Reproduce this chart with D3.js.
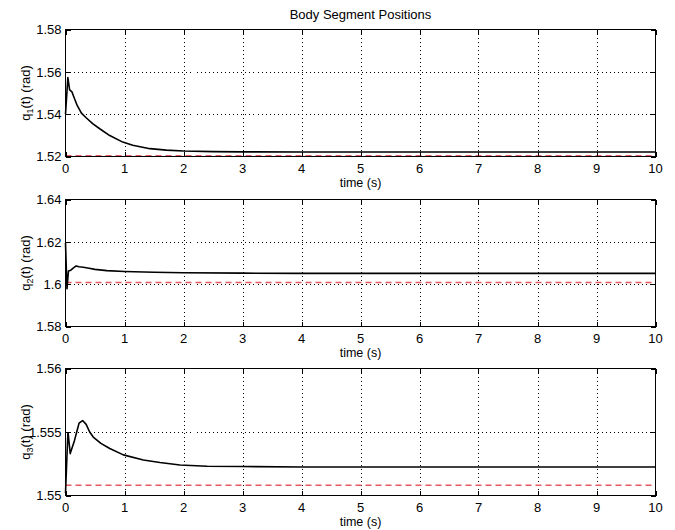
<!DOCTYPE html>
<html>

<head>
    <meta charset="utf-8">
    <style>
        body {
            margin: 0;
            background: #fff;
        }

        svg {
            font-family: "Liberation Sans", Arial, Helvetica, sans-serif;
            font-size: 13px;
        }

        .grid line {
            stroke: #000;
            stroke-dasharray: 1, 3;
            shape-rendering: crispEdges;
        }

        .tick-mark {
            stroke: #000;
            shape-rendering: crispEdges;
        }

        .frame {
            fill: none;
            stroke: #000;
            shape-rendering: crispEdges;
        }
    </style>
</head>

<body>
    <svg width="675" height="530"></svg>
</body>

<script src="https://d3js.org/d3.v7.min.js"></script>

<script>
    // values
    let xTicks = [0, 1, 2, 3, 4, 5, 6, 7, 8, 9, 10]

    let t1 = [0, 0.04, 0.07, 0.11, 0.15, 0.2, 0.27, 0.35, 0.46, 0.58, 0.75, 0.97, 1.14, 1.43, 1.71, 2.0, 2.5, 3, 4, 6, 8, 10]
    let q1 = [1.540, 1.5573, 1.5515, 1.5505, 1.5475, 1.5440, 1.5405, 1.5383, 1.5355, 1.5331, 1.5299, 1.5268, 1.5253, 1.5237, 1.5230, 1.5226, 1.5223, 1.5222, 1.5221, 1.5221, 1.5221, 1.5221]
    let q1Ref = 1.5203
    let q1Ticks = [1.52, 1.54, 1.56, 1.58]

    let t2 = [0, 0.025, 0.05, 0.09, 0.13, 0.18, 0.23, 0.3, 0.4, 0.5, 0.7, 1.0, 1.5, 2.0, 3, 4, 6, 8, 10]
    let q2 = [1.6195, 1.5978, 1.6062, 1.6066, 1.6076, 1.6086, 1.6082, 1.6080, 1.6075, 1.6070, 1.6064, 1.6060, 1.6056, 1.6054, 1.6052, 1.6051, 1.6051, 1.6051, 1.6051]
    let q2Ref = 1.6008
    let q2Ticks = [1.58, 1.6, 1.62, 1.64]

    let t3 = [0, 0.04, 0.045, 0.08, 0.15, 0.19, 0.23, 0.29, 0.35, 0.41, 0.47, 0.6, 0.75, 0.98, 1.32, 1.6, 1.94, 2.4, 3, 4, 6, 8, 10]
    let q3 = [1.5502, 1.5549, 1.5549, 1.5533, 1.5543, 1.5550, 1.5557, 1.5559, 1.5556, 1.5550, 1.5546, 1.5541, 1.5537, 1.5532, 1.5528, 1.5526, 1.5524, 1.5523, 1.55228, 1.55225, 1.55225, 1.55225, 1.55225]
    let q3Ref = 1.5508
    let q3Ticks = [1.55, 1.555, 1.56]

    let panels = [
        { t: t1, q: q1, ref: q1Ref, ticks: q1Ticks, sub: "1", top: 29, fmt: d => d3.format(".2f")(d) },
        { t: t2, q: q2, ref: q2Ref, ticks: q2Ticks, sub: "2", top: 199, fmt: d => String(+d.toFixed(2)) },
        { t: t3, q: q3, ref: q3Ref, ticks: q3Ticks, sub: "3", top: 368, fmt: d => String(+d.toFixed(3)) }
    ]

    let svg = d3.select("svg")
    let left = 65.5, right = 655.5, h = 127

    let x = d3.scaleLinear().domain([0, 10]).range([left, right])

    svg.append("text")
        .attr("x", (left + right) / 2)
        .attr("y", 19)
        .attr("text-anchor", "middle")
        .text("Body Segment Positions")

    panels.forEach(p => {
        let top = p.top + 0.5
        let bottom = top + h
        let y = d3.scaleLinear()
            .domain(d3.extent(p.ticks))
            .range([bottom, top])

        let g = svg.append("g")

        // dotted grid
        let grid = g.append("g").attr("class", "grid")
        grid.selectAll(".gx")
            .data(xTicks.slice(1, -1))
            .join("line")
            .attr("x1", d => Math.round(x(d)) + 0.5).attr("x2", d => Math.round(x(d)) + 0.5)
            .attr("y1", top).attr("y2", bottom)
        grid.selectAll(".gy")
            .data(p.ticks.slice(1, -1))
            .join("line")
            .attr("class", "gy")
            .attr("x1", left).attr("x2", right)
            .attr("y1", d => Math.round(y(d)) + 0.5).attr("y2", d => Math.round(y(d)) + 0.5)

        // reference level
        g.append("line")
            .attr("x1", x(0)).attr("x2", x(10))
            .attr("y1", y(p.ref)).attr("y2", y(p.ref))
            .attr("stroke", "#e35a60")
            .attr("stroke-width", 1.5)
            .attr("stroke-dasharray", "6,4")

        // trajectory
        let line = d3.line()
            .x((d, i) => x(p.t[i]))
            .y(d => y(d))
        g.append("path")
            .datum(p.q)
            .attr("d", line)
            .attr("fill", "none")
            .attr("stroke", "#000")
            .attr("stroke-width", 1.6)
            .attr("stroke-linejoin", "round")

        // box
        g.append("rect")
            .attr("class", "frame")
            .attr("x", left).attr("y", top)
            .attr("width", right - left).attr("height", h)

        // inward ticks
        xTicks.forEach(d => {
            let xx = Math.round(x(d)) + 0.5
            g.append("line").attr("class", "tick-mark").attr("x1", xx).attr("x2", xx).attr("y1", bottom).attr("y2", bottom - 5)
            g.append("line").attr("class", "tick-mark").attr("x1", xx).attr("x2", xx).attr("y1", top).attr("y2", top + 5)
        })
        p.ticks.forEach(d => {
            let yy = Math.round(y(d)) + 0.5
            g.append("line").attr("class", "tick-mark").attr("x1", left).attr("x2", left + 5).attr("y1", yy).attr("y2", yy)
            g.append("line").attr("class", "tick-mark").attr("x1", right).attr("x2", right - 5).attr("y1", yy).attr("y2", yy)
        })

        // tick labels
        g.selectAll(".xl")
            .data(xTicks)
            .join("text")
            .attr("x", d => x(d))
            .attr("y", bottom + 16.5)
            .attr("text-anchor", "middle")
            .text(d => d)
        g.selectAll(".yl")
            .data(p.ticks)
            .join("text")
            .attr("x", left - 4)
            .attr("y", d => y(d))
            .attr("dy", "0.36em")
            .attr("text-anchor", "end")
            .text(p.fmt)

        // axis labels
        g.append("text")
            .attr("x", (left + right) / 2)
            .attr("y", bottom + 30.5)
            .attr("text-anchor", "middle")
            .attr("font-size", "12.5px")
            .text("time (s)")

        let yl = g.append("text")
            .attr("transform", `translate(30,${(top + bottom) / 2}) rotate(-90)`)
            .attr("text-anchor", "middle")
        yl.append("tspan").text("q")
        yl.append("tspan").attr("font-size", "9px").attr("dy", "3").text(p.sub)
        yl.append("tspan").attr("dy", "-3").text("(t) (rad)")
    })
</script>

</html>
